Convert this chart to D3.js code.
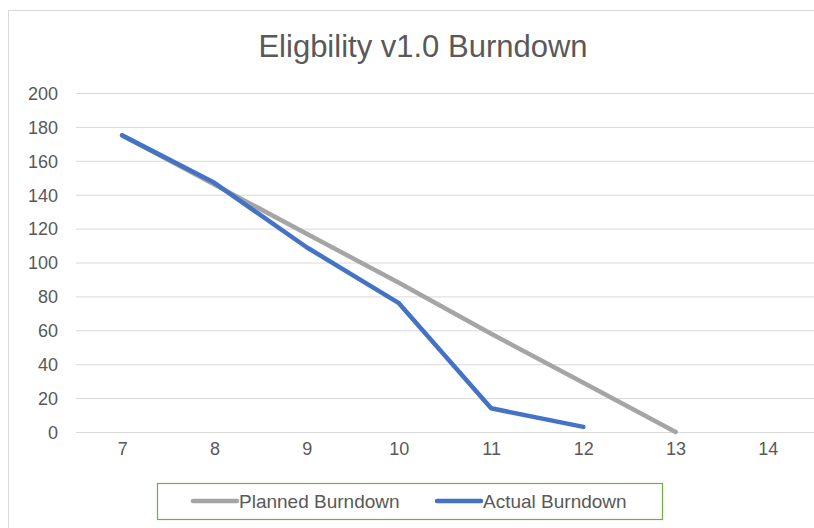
<!DOCTYPE html>
<head>
  <meta charset="utf-8">
  <title>Eligbility v1.0 Burndown</title>
  <style>
  body { margin: 0; background: #fff; }
  text { font-family: "Liberation Sans", Arial, sans-serif; fill: #595959; }
  .grid line { stroke: #d9d9d9; stroke-width: 1; }
  .grid path { display: none; }
  .axis path, .axis line { display: none; }
  .axis text { font-size: 18px; }
  .line { fill: none; stroke-width: 4.5; stroke-linejoin: round; stroke-linecap: round; }
  </style>
</head>
<body>
<svg id="chart"></svg>

<script src="https://cdn.jsdelivr.net/npm/d3@7"></script>
<script>
"use strict";

var totalWidth = 814,
    totalHeight = 528;

// dados
var sprints = [7, 8, 9, 10, 11, 12, 13, 14];
var planned = [175, 146, 117, 88, 58, 29, 0];
var actual = [175, 147, 109, 76, 14, 3];
var yTicks = [0, 20, 40, 60, 80, 100, 120, 140, 160, 180, 200];
var seriesNames = ["Planned Burndown", "Actual Burndown"];
var seriesColors = ["#a5a5a5", "#4472c4"];

var svg = d3.select("#chart")
    .attr("width", totalWidth)
    .attr("height", totalHeight);

// moldura do gráfico
svg.append("rect")
    .attr("x", 8.5).attr("y", 10.5)
    .attr("width", 830).attr("height", 540)
    .attr("fill", "#fff")
    .attr("stroke", "#d9d9d9");

svg.append("text")
    .attr("x", 423)
    .attr("y", 57)
    .attr("text-anchor", "middle")
    .style("font-size", "31px")
    .text("Eligbility v1.0 Burndown");

var margin = {top: 93, left: 76},
    width = 738,
    height = 339;

var g = svg.append("g")
    .attr("transform", "translate(" + margin.left + "," + margin.top + ")");

var x = d3.scalePoint()
    .domain(sprints)
    .range([0, width])
    .padding(0.5);

var y = d3.scaleLinear()
    .domain([0, 200])
    .range([height, 0]);

// linhas de grade
g.append("g")
    .attr("class", "grid")
    .call(d3.axisLeft(y).tickValues(yTicks).tickSize(-width).tickFormat(""));

g.append("g")
    .attr("class", "axis axis--y")
    .call(d3.axisLeft(y).tickValues(yTicks).tickSize(0).tickPadding(18))
    .selectAll("text").attr("dy", "0.35em");

g.append("g")
    .attr("class", "axis axis--x")
    .attr("transform", "translate(0," + height + ")")
    .call(d3.axisBottom(x).tickSize(0).tickPadding(10));

var line = d3.line()
    .x(function(d, i) { return x(sprints[i]); })
    .y(function(d) { return y(d); });

[planned, actual].forEach(function(s, k) {
  g.append("path")
      .datum(s)
      .attr("class", "line")
      .attr("stroke", seriesColors[k])
      .attr("d", line);
});

// legenda
var legend = svg.append("g");
legend.append("rect")
    .attr("x", 157.5).attr("y", 483.5)
    .attr("width", 505).attr("height", 36)
    .attr("fill", "#fff")
    .attr("stroke", "#70ad47")
    .attr("stroke-width", 1.2);

var legendX = [193, 437];
seriesNames.forEach(function(name, k) {
  legend.append("line")
      .attr("x1", legendX[k]).attr("x2", legendX[k] + 44)
      .attr("y1", 501).attr("y2", 501)
      .attr("stroke", seriesColors[k])
      .attr("stroke-width", 4.5)
      .attr("stroke-linecap", "round");
  legend.append("text")
      .attr("x", legendX[k] + 46)
      .attr("y", 507.5)
      .style("font-size", "19px")
      .text(name);
});
</script>
</body>
